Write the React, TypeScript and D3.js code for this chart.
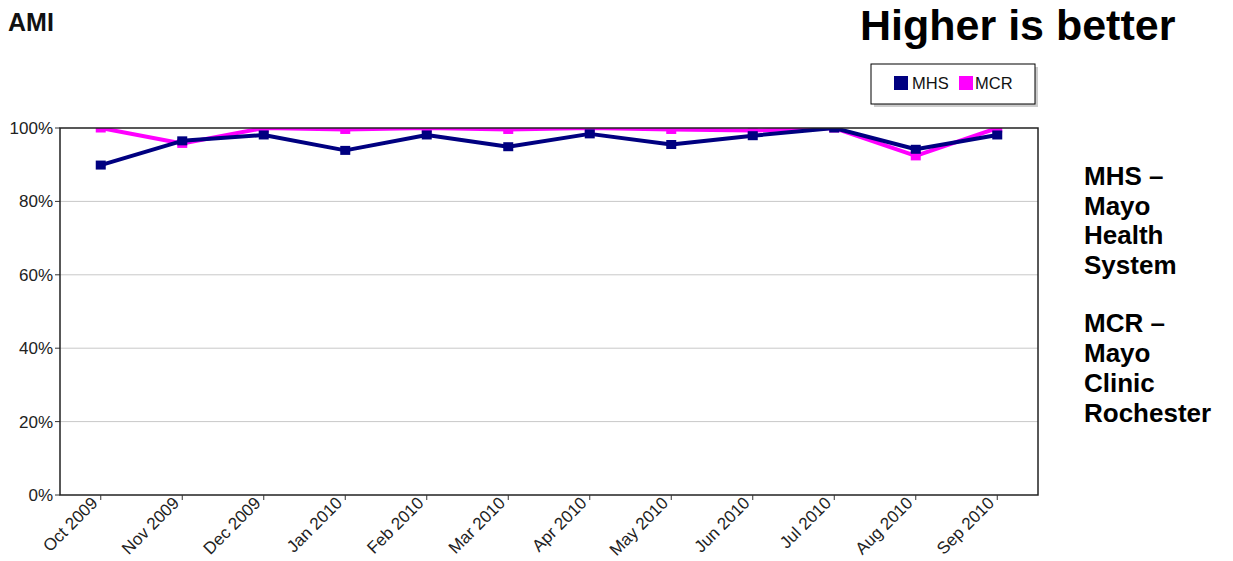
import React from "react";
import * as d3 from "d3";

const months = ["Oct 2009", "Nov 2009", "Dec 2009", "Jan 2010", "Feb 2010", "Mar 2010", "Apr 2010", "May 2010", "Jun 2010", "Jul 2010", "Aug 2010", "Sep 2010"];
const mhsValues = [89.9, 96.5, 98.1, 93.9, 98.1, 94.9, 98.4, 95.5, 97.9, 100, 94.2, 98.1];
const mcrValues = [100, 95.8, 100, 99.6, 100, 99.6, 100, 99.6, 99.3, 100, 92.4, 100];
const yTicks = [0, 20, 40, 60, 80, 100];
const noteLines1 = ["MHS –", "Mayo", "Health", "System"];
const noteLines2 = ["MCR –", "Mayo", "Clinic", "Rochester"];

const W = 1233, H = 561;
const left = 60, right = 1038, top = 128, bottom = 495;

export default function App() {
  const x = d3.scaleBand<string>().domain(months).range([left, right]);
  const cx = (m: string) => (x(m) as number) + x.bandwidth() / 2;
  const y = d3.scaleLinear().domain([0, 100]).range([bottom, top]);
  const line = d3.line<number>().x((_, i) => cx(months[i])).y((v) => y(v));
  const font = "Arial, 'Liberation Sans', Helvetica, sans-serif";

  const series = [
    { name: "MCR", values: mcrValues, color: "#ff00ff" },
    { name: "MHS", values: mhsValues, color: "#000080" },
  ];

  return (
    <svg width={W} height={H} style={{ position: "absolute", left: 0, top: 0, background: "#fff" }} fontFamily={font}>
      <text x={8} y={31} fontSize={25} fontWeight="bold" fill="#111">AMI</text>
      <text x={860} y={40} fontSize={43} fontWeight="bold" fill="#000">Higher is better</text>

      {/* legend */}
      <rect x={874} y={67} width={164} height={40} fill="#ccc" />
      <rect x={871} y={64} width={164} height={40} fill="#fff" stroke="#000" strokeWidth={1} />
      <rect x={894} y={76} width={14} height={14} fill="#000080" />
      <text x={912} y={89} fontSize={16.5} fill="#111">MHS</text>
      <rect x={959} y={76} width={14} height={14} fill="#ff00ff" />
      <text x={975} y={89} fontSize={16.5} fill="#111">MCR</text>

      {/* gridlines */}
      {yTicks.filter((t) => t > 0 && t < 100).map((t) => (
        <line key={t} x1={left} x2={right} y1={y(t)} y2={y(t)} stroke="#c8c8c8" strokeWidth={1} />
      ))}
      {/* y labels */}
      {yTicks.map((t) => (
        <g key={"yl" + t}>
          <line x1={left - 5} x2={left} y1={y(t)} y2={y(t)} stroke="#333" />
          <text x={left - 7} y={y(t) + 6} fontSize={17} textAnchor="end" fill="#222">{t}%</text>
        </g>
      ))}

      <defs>
        <clipPath id="plotclip">
          <rect x={left} y={top} width={right - left} height={bottom - top} />
        </clipPath>
      </defs>
      <g clipPath="url(#plotclip)">
        {series.map((s) => (
          <g key={s.name}>
            <path d={line(s.values) || ""} fill="none" stroke={s.color} strokeWidth={4} strokeLinejoin="round" />
            {s.values.map((v, i) => (
              <rect key={i} x={cx(months[i]) - 5} y={y(v) - 4.5} width={10} height={9} fill={s.color} />
            ))}
          </g>
        ))}
      </g>

      {/* frame */}
      <rect x={left} y={top} width={right - left} height={bottom - top} fill="none" stroke="#222" strokeWidth={1.5} />

      {/* x ticks & labels */}
      {months.map((m) => (
        <g key={m}>
          <line x1={cx(m)} x2={cx(m)} y1={bottom} y2={bottom + 5} stroke="#333" />
          <text transform={`translate(${cx(m) - 2},${bottom + 9}) rotate(-45)`} fontSize={17} textAnchor="end" fill="#222">{m}</text>
        </g>
      ))}

      {noteLines1.map((t, i) => (
        <text key={"a" + i} x={1084} y={185 + i * 29.5} fontSize={26} fontWeight="bold" fill="#000">{t}</text>
      ))}
      {noteLines2.map((t, i) => (
        <text key={"b" + i} x={1084} y={332 + i * 30} fontSize={26} fontWeight="bold" fill="#000">{t}</text>
      ))}
    </svg>
  );
}
